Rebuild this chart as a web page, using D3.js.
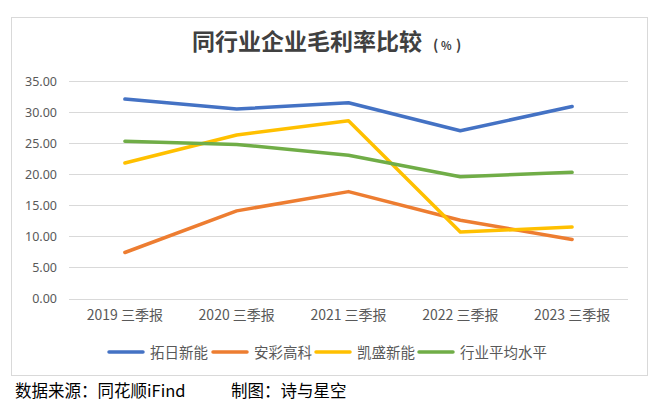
<!DOCTYPE html>
<html><head><meta charset="utf-8">
<script src="https://cdn.jsdelivr.net/npm/d3@7/dist/d3.min.js"></script>
<style>body{margin:0;background:#fff}svg{display:block}</style>
</head><body><svg id="c" width="656" height="404"></svg>
<script>
const categories = ["2019 三季报","2020 三季报","2021 三季报","2022 三季报","2023 三季报"];
const seriesNames = ["拓日新能","安彩高科","凯盛新能","行业平均水平"];
const tuori = [32.1, 30.5, 31.5, 27.0, 30.9];
const ancai = [7.4, 14.1, 17.2, 12.6, 9.5];
const kaisheng = [21.8, 26.3, 28.6, 10.7, 11.5];
const average = [25.3, 24.8, 23.05, 19.6, 20.3];
const yTicks = [0,5,10,15,20,25,30,35];
const colors = ["#4472C4","#ED7D31","#FFC000","#70AD47"];
const series = [tuori, ancai, kaisheng, average];

const svg = d3.select("#c");
const cjk = "'Noto Sans CJK SC', sans-serif";

svg.append("rect").attr("x",11.5).attr("y",17.5).attr("width",636).attr("height",358)
  .attr("fill","#fff").attr("stroke","#d9d9d9").attr("stroke-width",1);

svg.append("text").attr("x",192).attr("y",50).attr("font-family",cjk)
  .attr("fill","#404040").attr("font-weight","bold").attr("font-size","23px").text("同行业企业毛利率比较");
const sub = svg.append("g").attr("font-family",cjk).attr("fill","#404040").attr("font-size","14px").attr("font-weight","bold");
sub.append("text").attr("x",433).attr("y",50).text("(");
sub.append("text").attr("x",441).attr("y",50).attr("font-size","11px").text("%");
sub.append("text").attr("x",456).attr("y",50).text(")");

const x = d3.scaleBand().domain(categories).range([69,628]);
const y = d3.scaleLinear().domain([0,35]).range([298.5,81]);

const grid = svg.append("g");
grid.selectAll("line").data(yTicks).join("line")
  .attr("x1",69).attr("x2",628)
  .attr("y1",d=>Math.round(y(d))+0.5).attr("y2",d=>Math.round(y(d))+0.5)
  .attr("stroke","#d9d9d9").attr("stroke-width",1);

const yAxis = d3.axisLeft(y).tickValues(yTicks).tickFormat(d3.format(".2f")).tickSize(0).tickPadding(0);
svg.append("g").attr("transform","translate(57,0)").call(yAxis)
  .call(g=>g.select(".domain").remove())
  .call(g=>g.selectAll("text").attr("font-family","'Noto Sans', sans-serif").attr("font-size","12.5px").attr("fill","#595959"));

const xAxis = d3.axisBottom(x).tickSize(0).tickPadding(0);
svg.append("g").attr("transform","translate(0,310)").call(xAxis)
  .call(g=>g.select(".domain").remove())
  .call(g=>g.selectAll("text").attr("font-family",cjk).attr("font-size","14px").attr("fill","#595959").attr("dy","0.71em"));

const line = d3.line().x((d,i)=>x(categories[i])+x.bandwidth()/2).y(d=>y(d));
svg.append("g").selectAll("path").data(series).join("path")
  .attr("d",line).attr("fill","none").attr("stroke",(d,i)=>colors[i])
  .attr("stroke-width",3.5).attr("stroke-linejoin","round").attr("stroke-linecap","round");

const legendX = [108,212,315,418];
const lg = svg.append("g").selectAll("g").data(seriesNames).join("g")
  .attr("transform",(d,i)=>`translate(${legendX[i]},352)`);
lg.append("line").attr("x1",1).attr("x2",35).attr("stroke",(d,i)=>colors[i]).attr("stroke-width",3.5).attr("stroke-linecap","round");
lg.append("text").attr("x",42).attr("y",5.5).attr("font-family",cjk).attr("font-size","14.5px").attr("fill","#595959").text(d=>d);

svg.append("text").attr("x",15).attr("y",397).attr("font-family",cjk).attr("font-size","16.5px").attr("fill","#000")
  .text("数据来源：同花顺iFind");
svg.append("text").attr("x",231).attr("y",397).attr("font-family",cjk).attr("font-size","16.5px").attr("fill","#000")
  .text("制图：诗与星空");
</script></body></html>
